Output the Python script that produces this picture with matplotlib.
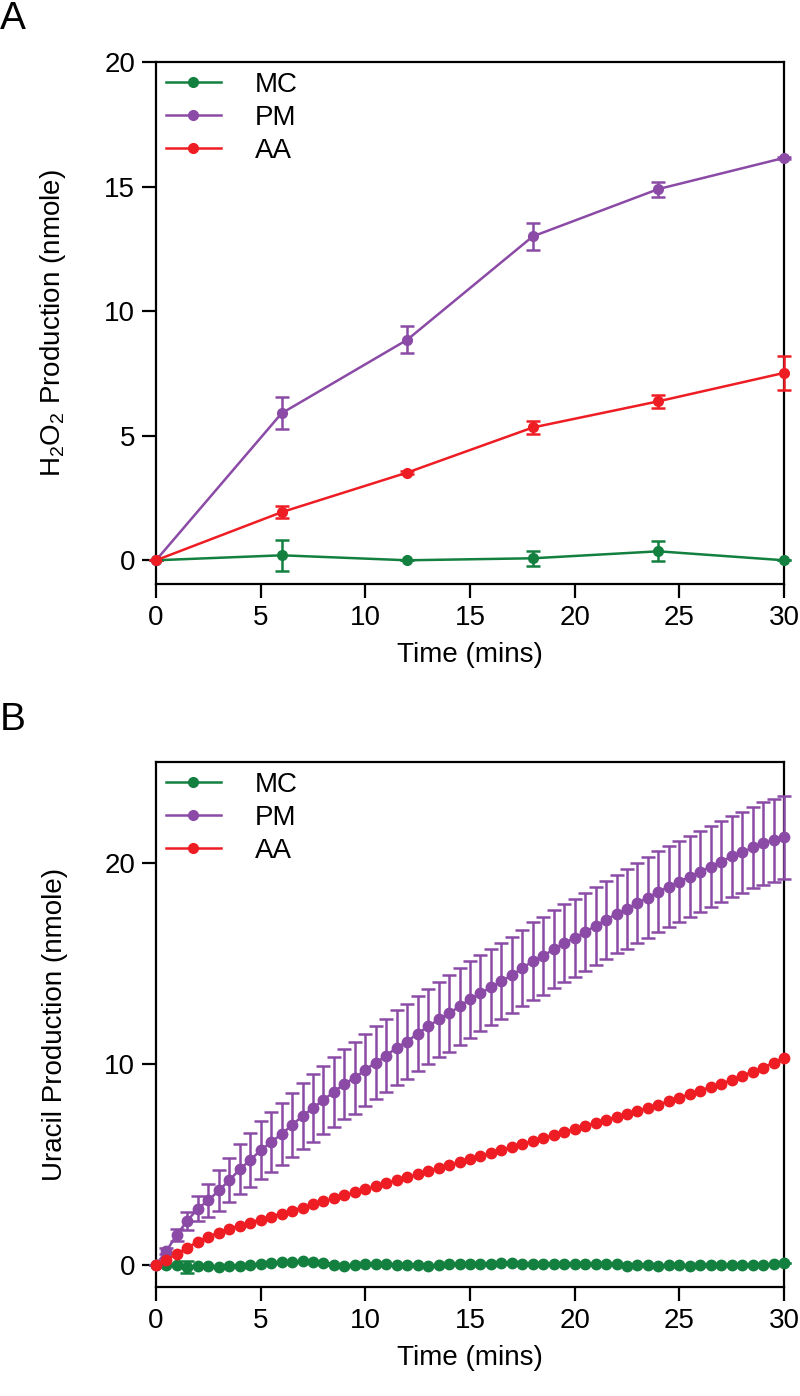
import matplotlib
matplotlib.use('Agg')
import matplotlib.pyplot as plt
from matplotlib.lines import Line2D
import numpy as np

plt.rcParams['font.family'] = ['Liberation Sans', 'DejaVu Sans']
plt.rcParams['mathtext.fontset'] = 'custom'
plt.rcParams['mathtext.rm'] = 'Liberation Sans'

green = '#138040'
purple = '#8B4AA6'
red = '#EE1D24'

# panel A: H2O2 production
time_a = [0, 6, 12, 18, 24, 30]
mc_a = [0, 0.2, 0.0, 0.08, 0.36, 0.0]
mc_a_err = [0, 0.62, 0, 0.3, 0.4, 0]
pm_a = [0, 5.9, 8.85, 13.0, 14.9, 16.15]
pm_a_err = [0, 0.65, 0.55, 0.55, 0.3, 0.05]
aa_a = [0, 1.93, 3.52, 5.33, 6.38, 7.52]
aa_a_err = [0, 0.25, 0.05, 0.25, 0.25, 0.68]

# panel B: uracil production, sampled every 0.5 min
time_b = np.arange(0, 30.5, 0.5)
mc_b = [0.0, 0.0, 0.0, -0.1, -0.05, -0.05, -0.1, -0.05, -0.05, 0.0,
        0.05, 0.1, 0.15, 0.15, 0.2, 0.15, 0.1, 0.0, -0.05, 0.0,
        0.05, 0.05, 0.05, 0.0, 0.0, 0.0, -0.05, 0.0, 0.05, 0.05,
        0.05, 0.05, 0.05, 0.1, 0.1, 0.05, 0.05, 0.05, 0.05, 0.05,
        0.05, 0.05, 0.05, 0.05, 0.05, -0.05, 0.0, 0.0, -0.05, 0.0,
        0.0, -0.05, 0.0, 0.0, 0.0, 0.0, 0.0, 0.0, 0.0, 0.05, 0.1]
mc_b_err = [0, 0, 0, 0.3, 0, 0, 0, 0, 0, 0,
            0, 0, 0, 0, 0, 0, 0, 0, 0, 0,
            0, 0, 0, 0, 0, 0, 0, 0, 0, 0,
            0, 0, 0, 0, 0, 0, 0, 0, 0, 0,
            0, 0, 0, 0, 0, 0, 0, 0, 0, 0,
            0, 0, 0, 0, 0, 0, 0, 0, 0, 0, 0]
pm_b = [0.0, 0.7, 1.5, 2.2, 2.8, 3.2, 3.7, 4.2, 4.75, 5.2,
        5.7, 6.1, 6.5, 6.95, 7.4, 7.8, 8.2, 8.6, 9.0, 9.3,
        9.7, 10.05, 10.4, 10.8, 11.1, 11.5, 11.85, 12.2, 12.5, 12.85,
        13.2, 13.5, 13.8, 14.1, 14.4, 14.75, 15.1, 15.35, 15.7, 16.0,
        16.25, 16.55, 16.85, 17.15, 17.45, 17.7, 18.0, 18.25, 18.55, 18.8,
        19.05, 19.3, 19.55, 19.8, 20.05, 20.3, 20.5, 20.75, 20.95, 21.1, 21.25]
pm_b_err = [0.0, 0.15, 0.3, 0.45, 0.6, 0.8, 1.0, 1.1, 1.25, 1.35,
            1.45, 1.5, 1.55, 1.6, 1.65, 1.7, 1.7, 1.75, 1.75, 1.8,
            1.8, 1.8, 1.8, 1.85, 1.85, 1.85, 1.85, 1.85, 1.9, 1.9,
            1.9, 1.9, 1.9, 1.9, 1.9, 1.9, 1.95, 1.95, 1.95, 1.95,
            1.95, 1.95, 1.95, 1.95, 1.95, 2.0, 2.0, 2.0, 2.0, 2.0,
            2.0, 2.0, 2.0, 2.0, 2.0, 2.0, 2.0, 2.0, 2.05, 2.05, 2.05]
aa_b = [0.0, 0.25, 0.55, 0.85, 1.15, 1.4, 1.6, 1.8, 1.95, 2.1,
        2.25, 2.4, 2.55, 2.7, 2.85, 3.0, 3.15, 3.3, 3.45, 3.6,
        3.75, 3.9, 4.05, 4.2, 4.35, 4.5, 4.65, 4.8, 4.95, 5.1,
        5.25, 5.4, 5.55, 5.7, 5.85, 6.0, 6.15, 6.3, 6.45, 6.6,
        6.75, 6.9, 7.05, 7.2, 7.35, 7.5, 7.65, 7.8, 7.95, 8.15,
        8.3, 8.5, 8.65, 8.85, 9.0, 9.2, 9.4, 9.6, 9.8, 10.05, 10.3]

labels = ['MC', 'PM', 'AA']
colors = [green, purple, red]
FS = 20

fig = plt.figure(figsize=(8, 13.96), dpi=100)
ax1 = fig.add_axes([0.195, 0.5817, 0.785, 0.3739])
ax2 = fig.add_axes([0.195, 0.0781, 0.785, 0.3761])


def style_axes(ax):
    for sp in ax.spines.values():
        sp.set_linewidth(1.6)
    ax.tick_params(direction='out', length=10, width=1.6, labelsize=FS,
                   pad=5, top=False, right=False)
    ax.set_xlim(0, 30)
    ax.set_xticks([0, 5, 10, 15, 20, 25, 30])
    ax.set_xlabel('Time (mins)', fontsize=FS, labelpad=8)
    handles = [Line2D([], [], color=c, lw=1.8, marker='o', markersize=7)
               for c in colors]
    ax.legend(handles, labels, loc='upper left', frameon=False, fontsize=FS,
              handlelength=2.0, handletextpad=1.2, labelspacing=0.25,
              borderaxespad=0.15, borderpad=0.2)


series_a = [(mc_a, mc_a_err), (pm_a, pm_a_err), (aa_a, aa_a_err)]
for (y, e), c in zip(series_a, colors):
    ax1.errorbar(time_a, y, yerr=e, color=c, marker='o', markersize=7,
                 lw=1.8, elinewidth=1.8, capsize=5, capthick=1.8,
                 clip_on=False, zorder=3)
style_axes(ax1)
ax1.set_ylim(-0.95, 20)
ax1.set_yticks([0, 5, 10, 15, 20])
ax1.set_ylabel(r'H$_\mathregular{2}$O$_\mathregular{2}$ Production (nmole)',
               fontsize=FS, labelpad=26)

series_b = [(mc_b, mc_b_err), (pm_b, pm_b_err), (aa_b, None)]
for (y, e), c in zip(series_b, colors):
    ax2.errorbar(time_b, y, yerr=e, color=c, marker='o', markersize=7.5,
                 lw=1.8, elinewidth=1.8, capsize=5, capthick=1.8,
                 clip_on=False, zorder=3)
style_axes(ax2)
ax2.set_ylim(-1.1, 25)
ax2.set_yticks([0, 10, 20])
ax2.set_ylabel('Uracil Production (nmole)', fontsize=FS, labelpad=26)

fig.text(0.0, 0.999, 'A', fontsize=28, va='top', ha='left')
fig.text(0.0, 0.497, 'B', fontsize=28, va='top', ha='left')

fig.savefig('out.png', dpi=100)
